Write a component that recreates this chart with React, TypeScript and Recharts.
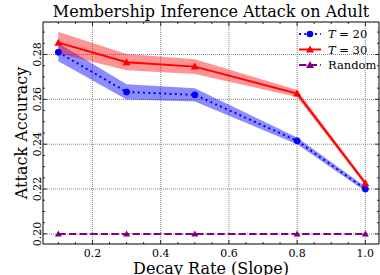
import {
  ComposedChart,
  Line,
  Area,
  XAxis,
  YAxis,
  CartesianGrid,
} from "recharts";

const decayRates = [0.1, 0.3, 0.5, 0.8, 1.0];
const accT20 = [0.281, 0.2633, 0.262, 0.2415, 0.22];
const errT20 = [0.004, 0.0034, 0.003, 0.0015, 0.001];
const accT30 = [0.2853, 0.2766, 0.2746, 0.2626, 0.2226];
const errT30 = [0.0047, 0.0036, 0.0033, 0.0016, 0.001];
const accRandom = [0.2, 0.2, 0.2, 0.2, 0.2];

const xMajor = [0.2, 0.4, 0.6, 0.8, 1.0];
const xMinor = [0.1, 0.15, 0.25, 0.3, 0.35, 0.45, 0.5, 0.55, 0.65, 0.7, 0.75, 0.85, 0.9, 0.95];
const yMajor = [0.2, 0.22, 0.24, 0.26, 0.28];
const yMinor = [0.205, 0.21, 0.215, 0.225, 0.23, 0.235, 0.245, 0.25, 0.255, 0.265, 0.27, 0.275, 0.285, 0.29];

const data = decayRates.map((d, i) => ({
  decay: d,
  t20: accT20[i],
  t20Band: [accT20[i] - errT20[i], accT20[i] + errT20[i]],
  t30: accT30[i],
  t30Band: [accT30[i] - errT30[i], accT30[i] + errT30[i]],
  random: accRandom[i],
}));

const W = 380;
const H = 275;
// plot box: left 43, right 379, top 22, bottom 244
const LEFT_W = 43;
const RIGHT_W = 1;
const TOP_H = 22;
const BOTTOM_H = 31;
const FONT = "'DejaVu Serif', 'Liberation Serif', serif";

const isMajor = (v: number, list: number[]) => list.some((m) => Math.abs(m - v) < 1e-9);

const makeXTick = (side: "bottom" | "top") => (props: any) => {
  const { x, payload } = props;
  const major = isMajor(payload.value, xMajor);
  const len = major ? 4 : 2;
  const edge = side === "bottom" ? H - BOTTOM_H : TOP_H;
  const dir = side === "bottom" ? -1 : 1;
  return (
    <g>
      <line x1={x} x2={x} y1={edge} y2={edge + dir * len} stroke="#000" strokeWidth={0.8} />
      {side === "bottom" && major && (
        <text x={x} y={256.5} textAnchor="middle" fontSize={11} fontFamily={FONT} fill="#000">
          {payload.value.toFixed(1)}
        </text>
      )}
    </g>
  );
};

const makeYTick = (side: "left" | "right") => (props: any) => {
  const { y, payload } = props;
  const major = isMajor(payload.value, yMajor);
  const len = major ? 4 : 2;
  const edge = side === "left" ? LEFT_W : W - RIGHT_W;
  const dir = side === "left" ? 1 : -1;
  return (
    <g>
      <line x1={edge} x2={edge + dir * len} y1={y} y2={y} stroke="#000" strokeWidth={0.8} />
      {side === "left" && major && (
        <text
          x={41}
          y={y}
          transform={`rotate(-90 41 ${y})`}
          textAnchor="middle"
          fontSize={11}
          fontFamily={FONT}
          fill="#000"
        >
          {payload.value.toFixed(2)}
        </text>
      )}
    </g>
  );
};

const Circle = (props: any) => {
  const { cx, cy, fill, r = 3.3 } = props;
  if (cx == null || cy == null) return null;
  return <circle cx={cx} cy={cy} r={r} fill={fill} stroke={fill} />;
};

const Triangle = (props: any) => {
  const { cx, cy, fill, s = 4 } = props;
  if (cx == null || cy == null) return null;
  return (
    <polygon
      points={`${cx},${cy - s} ${cx - s},${cy + s * 0.75} ${cx + s},${cy + s * 0.75}`}
      fill={fill}
    />
  );
};

const legendItems = [
  { label: "T", suffix: " = 20", color: "#0000ff", dash: "2 3.3", marker: "circle" },
  { label: "T", suffix: " = 30", color: "#ff0000", dash: undefined, marker: "triangle" },
  { label: "", suffix: "Random", color: "#800080", dash: "7.4 3.2", marker: "triangle" },
];

const LegendBox = ({ x, y }: { x: number; y: number }) => (
  <g>
    {legendItems.map((it, i) => {
      const ly = y + i * 15.5;
      return (
        <g key={i}>
          <line x1={x} x2={x + 22} y1={ly} y2={ly} stroke={it.color} strokeWidth={2} strokeDasharray={it.dash} />
          {it.marker === "circle" ? (
            <circle cx={x + 11} cy={ly} r={3.3} fill={it.color} />
          ) : (
            <polygon points={`${x + 11},${ly - 4} ${x + 7},${ly + 3} ${x + 15},${ly + 3}`} fill={it.color} />
          )}
          <text x={x + 29} y={ly + 4} fontSize={11.5} fontFamily={FONT} fill="#000">
            {it.label && <tspan fontStyle="italic">{it.label}</tspan>}
            {it.suffix}
          </text>
        </g>
      );
    })}
  </g>
);

export default function App() {
  return (
    <div style={{ position: "absolute", left: 0, top: 0, width: W, height: H, background: "#fff" }}>
      <ComposedChart width={W} height={H} data={data} margin={{ top: 0, right: 0, bottom: 0, left: 0 }}>
        <CartesianGrid
          xAxisId="x"
          yAxisId="y"
          verticalValues={xMajor}
          horizontalValues={yMajor}
          stroke="#555"
          strokeDasharray="1 1"
          strokeWidth={0.7}
        />
        <XAxis
          xAxisId="x"
          dataKey="decay"
          type="number"
          domain={[0.055, 1.04]}
          ticks={[...xMajor, ...xMinor]}
          interval={0}
          height={BOTTOM_H}
          tickLine={false}
          axisLine={{ stroke: "#000", strokeWidth: 1 }}
          tick={makeXTick("bottom")}
          allowDataOverflow
        />
        <XAxis
          xAxisId="top"
          orientation="top"
          dataKey="decay"
          type="number"
          domain={[0.055, 1.04]}
          ticks={[...xMajor, ...xMinor]}
          interval={0}
          height={TOP_H}
          tickLine={false}
          axisLine={{ stroke: "#000", strokeWidth: 1 }}
          tick={makeXTick("top")}
          allowDataOverflow
        />
        <YAxis
          yAxisId="y"
          type="number"
          domain={[0.1955, 0.2945]}
          ticks={[...yMajor, ...yMinor]}
          interval={0}
          width={LEFT_W}
          tickLine={false}
          axisLine={{ stroke: "#000", strokeWidth: 1 }}
          tick={makeYTick("left")}
          allowDataOverflow
        />
        <YAxis
          yAxisId="right"
          orientation="right"
          type="number"
          domain={[0.1955, 0.2945]}
          ticks={[...yMajor, ...yMinor]}
          interval={0}
          width={RIGHT_W}
          tickLine={false}
          axisLine={{ stroke: "#000", strokeWidth: 1 }}
          tick={makeYTick("right")}
          allowDataOverflow
        />
        <Area
          xAxisId="x"
          yAxisId="y"
          type="linear"
          dataKey="t20Band"
          stroke="none"
          fill="#0000ff"
          fillOpacity={0.45}
          isAnimationActive={false}
        />
        <Area
          xAxisId="x"
          yAxisId="y"
          type="linear"
          dataKey="t30Band"
          stroke="none"
          fill="#ff0000"
          fillOpacity={0.42}
          isAnimationActive={false}
        />
        <Line
          xAxisId="x"
          yAxisId="y"
          type="linear"
          dataKey="t20"
          stroke="#0000ff"
          strokeWidth={2}
          strokeDasharray="2 3.3"
          dot={<Circle fill="#0000ff" />}
          isAnimationActive={false}
        />
        <Line
          xAxisId="x"
          yAxisId="y"
          type="linear"
          dataKey="t30"
          stroke="#ff0000"
          strokeWidth={2}
          dot={<Triangle fill="#ff0000" s={4} />}
          isAnimationActive={false}
        />
        <Line
          xAxisId="x"
          yAxisId="y"
          type="linear"
          dataKey="random"
          stroke="#800080"
          strokeWidth={2}
          strokeDasharray="7.4 3.2"
          dot={<Triangle fill="#800080" s={3.5} />}
          isAnimationActive={false}
        />
        <LegendBox x={299} y={34} />
        <text x={211} y={17} textAnchor="middle" fontSize={16} fontFamily={FONT} fill="#000">
          Membership Inference Attack on Adult
        </text>
        <text x={211} y={274} textAnchor="middle" fontSize={16} fontFamily={FONT} fill="#000">
          Decay Rate (Slope)
        </text>
        <text
          x={27}
          y={133}
          transform="rotate(-90 27 133)"
          textAnchor="middle"
          fontSize={16}
          fontFamily={FONT}
          fill="#000"
        >
          Attack Accuracy
        </text>
      </ComposedChart>
    </div>
  );
}
